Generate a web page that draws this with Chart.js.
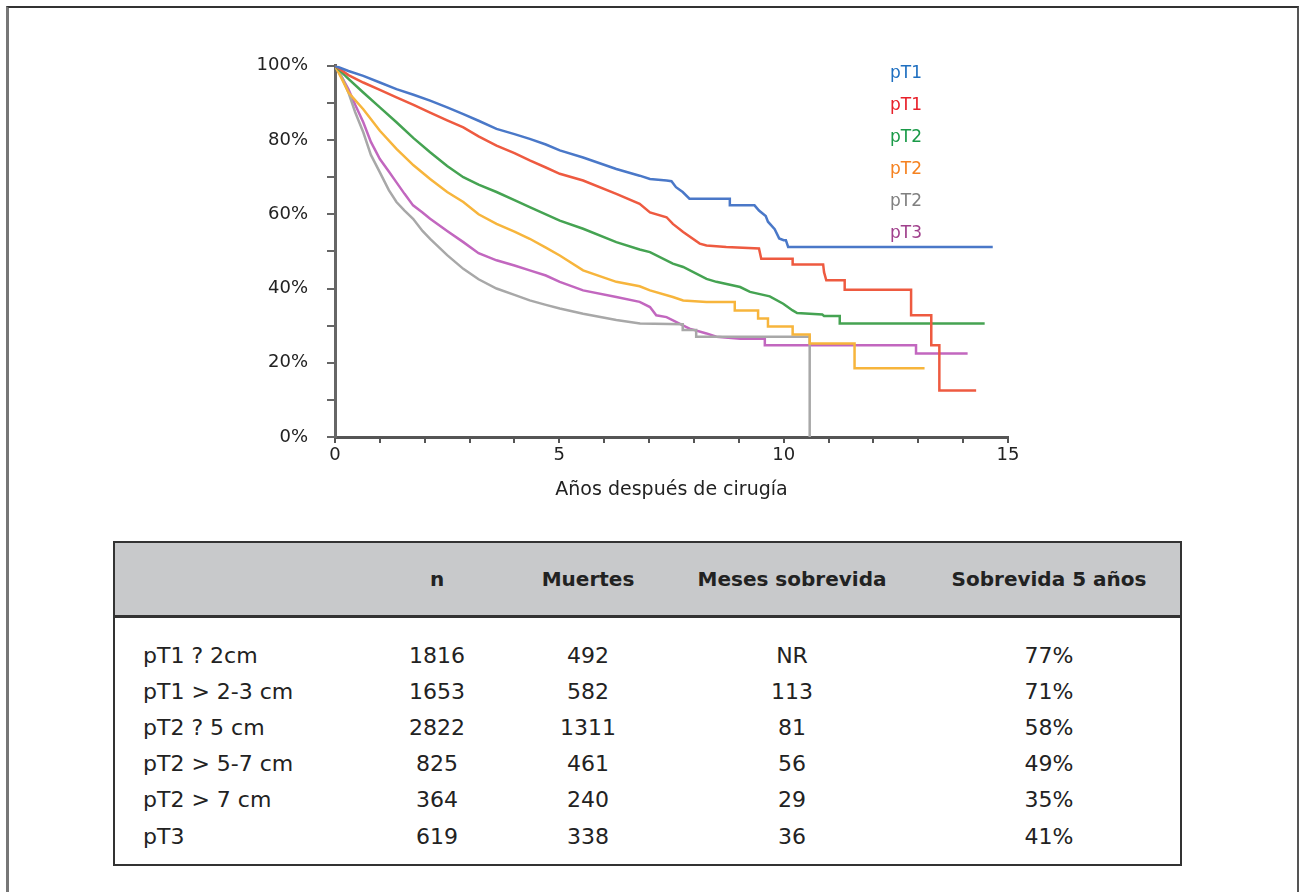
<!DOCTYPE html>
<html>
<head>
<meta charset="utf-8">
<script src="https://cdn.jsdelivr.net/npm/chart.js"></script>
<style>
  body { margin: 0; background: #fff; font-family: 'DejaVu Sans', sans-serif; color: #222; }
  #frame { position: absolute; left: 6px; top: 6px; width: 1288px; height: 900px;
           border-top: 2px solid #333; border-left: 3px solid #777; border-right: 2px solid #555; }
  #chartBox { position: absolute; left: 200px; top: 36px; width: 830px; height: 479px; }
  #legend { position: absolute; left: 890px; top: 56px; font-size: 17px; line-height: 32px; }
  #tbl { position: absolute; left: 113px; top: 541px; width: 1069px; border: 2px solid #333;
         border-collapse: separate; border-spacing: 0; table-layout: fixed; box-sizing: border-box; }
  #tbl th { background: #c8c9cb; height: 72px; border-bottom: 3px solid #333; font-size: 20px;
            font-weight: bold; padding: 0; text-align: center; }
  #tbl td { font-size: 22px; height: 36.2px; padding: 0; text-align: center; }
  #tbl td.lbl { text-align: left; padding-left: 28px; }
  #tbl .c5 { padding-left: 16px; }
</style>
</head>
<body>
<div id="frame"></div>
<div id="chartBox"><canvas id="km" width="830" height="479"></canvas></div>
<div id="legend"></div>
<table id="tbl">
  <colgroup><col style="width:265px"><col style="width:114px"><col style="width:188px"><col style="width:220px"><col style="width:278px"></colgroup>
  <thead><tr><th></th><th>n</th><th>Muertes</th><th>Meses sobrevida</th><th class="c5">Sobrevida 5 años</th></tr></thead>
  <tbody id="tbody"></tbody>
</table>
<script>
// curvas Kaplan-Meier (años, % supervivencia)
var t_pT1a = [0, 0.3, 0.63, 1.0, 1.37, 1.75, 2.12, 2.5, 2.86, 3.2, 3.6, 4.0, 4.34, 4.7, 5.01, 5.53, 6.27, 6.79, 7.02, 7.39, 7.5, 7.6, 7.75, 7.9, 8.8, 8.8, 9.35, 9.45, 9.6, 9.65, 9.8, 9.9, 10.0, 10.05, 10.1, 14.66];
var s_pT1a = [100, 98.6, 97.3, 95.5, 93.7, 92.2, 90.6, 88.8, 87, 85.2, 83, 81.6, 80.3, 78.8, 77.2, 75.3, 72.2, 70.4, 69.5, 69.1, 68.9, 67.3, 66, 64.2, 64.2, 62.4, 62.4, 61, 59.5, 58, 56, 53.5, 53, 53, 51.2, 51.2];

var t_pT1b = [0, 0.3, 0.63, 1.0, 1.37, 1.75, 2.12, 2.5, 2.86, 3.2, 3.6, 4.0, 4.34, 4.7, 5.01, 5.53, 6.27, 6.79, 7.02, 7.39, 7.53, 7.76, 8.13, 8.28, 8.72, 9.45, 9.5, 10.2, 10.2, 10.88, 10.9, 10.95, 11.36, 11.36, 12.84, 12.84, 13.29, 13.29, 13.47, 13.47, 14.29];
var s_pT1b = [100, 97.5, 95.5, 93.5, 91.5, 89.5, 87.4, 85.3, 83.4, 81, 78.5, 76.5, 74.5, 72.6, 70.9, 69.1, 65.5, 62.8, 60.5, 59.2, 57.4, 55.2, 52.1, 51.6, 51.2, 50.8, 48, 48, 46.5, 46.5, 44.4, 42.2, 42.2, 39.7, 39.7, 32.8, 32.8, 24.7, 24.7, 12.5, 12.5];

var t_pT2a = [0, 0.3, 0.63, 1.0, 1.37, 1.75, 2.12, 2.5, 2.86, 3.2, 3.6, 4.0, 4.34, 4.7, 5.01, 5.53, 6.27, 6.79, 7.02, 7.53, 7.76, 8.28, 8.5, 9.03, 9.25, 9.69, 9.99, 10.2, 10.3, 10.86, 10.9, 11.25, 11.25, 14.48];
var s_pT2a = [100, 96.5, 92.8, 88.8, 84.8, 80.5, 76.7, 73, 70, 68, 66, 63.8, 61.9, 60, 58.3, 56.1, 52.5, 50.5, 49.8, 46.7, 45.8, 42.6, 41.8, 40.4, 39.1, 37.9, 35.9, 34.1, 33.4, 33, 32.6, 32.6, 30.6, 30.6];

var t_pT2b = [0, 0.15, 0.3, 0.63, 1.0, 1.37, 1.75, 2.12, 2.5, 2.86, 3.2, 3.6, 4.0, 4.34, 4.7, 5.01, 5.53, 6.27, 6.79, 7.02, 7.53, 7.76, 8.28, 8.91, 8.91, 9.43, 9.43, 9.65, 9.65, 10.2, 10.2, 10.58, 10.58, 11.58, 11.58, 13.14];
var s_pT2b = [100, 96.5, 92.8, 88.3, 82.5, 77.6, 73.2, 69.5, 66, 63.3, 60, 57.4, 55.3, 53.4, 51, 48.9, 44.9, 41.8, 40.6, 39.5, 37.7, 36.8, 36.4, 36.4, 34.1, 34.1, 31.9, 31.9, 29.8, 29.8, 27.6, 27.6, 25.2, 25.2, 18.5, 18.5];

var t_pT2c = [0, 0.15, 0.3, 0.45, 0.63, 0.8, 1.0, 1.2, 1.37, 1.55, 1.74, 1.95, 2.12, 2.5, 2.86, 3.2, 3.6, 4.0, 4.34, 4.7, 5.01, 5.53, 6.27, 6.8, 7.75, 7.75, 8.05, 8.05, 10.58, 10.58];
var s_pT2c = [100, 97, 92.8, 87.5, 82.1, 76, 71.3, 66.5, 63.3, 61, 58.8, 55.5, 53.4, 49, 45.3, 42.5, 40, 38.3, 36.8, 35.6, 34.6, 33.2, 31.5, 30.6, 30.4, 28.8, 28.8, 27, 27, 0];

var t_pT3 = [0, 0.15, 0.3, 0.45, 0.63, 0.8, 1.0, 1.2, 1.37, 1.55, 1.74, 1.95, 2.12, 2.5, 2.86, 3.2, 3.6, 4.0, 4.34, 4.7, 5.01, 5.53, 6.27, 6.79, 7.02, 7.16, 7.39, 7.9, 8.28, 8.5, 9.03, 9.58, 9.58, 12.95, 12.95, 14.1];
var s_pT3 = [100, 97, 93.7, 89.5, 84.8, 79.5, 74.9, 71.5, 68.6, 65.5, 62.4, 60.5, 58.8, 55.5, 52.5, 49.5, 47.6, 46.2, 44.9, 43.5, 41.8, 39.5, 37.7, 36.4, 35, 32.8, 32.3, 29.2, 27.9, 27, 26.5, 26.5, 24.7, 24.7, 22.5, 22.5];

var legendLabels = ['pT1', 'pT1', 'pT2', 'pT2', 'pT2', 'pT3'];
var legendColors = ['#1f6fc0', '#e8202a', '#1a9a48', '#f58220', '#808080', '#a0408c'];
var lineColors = ['#4a78c8', '#ee5a40', '#45a352', '#f7b53c', '#a8a8a8', '#c267bf'];

// tabla
var rowLabels = ['pT1 ? 2cm', 'pT1 > 2-3 cm', 'pT2 ? 5 cm', 'pT2 > 5-7 cm', 'pT2 > 7 cm', 'pT3'];
var nVals = [1816, 1653, 2822, 825, 364, 619];
var deaths = [492, 582, 1311, 461, 240, 338];
var months = ['NR', 113, 81, 56, 29, 36];
var surv5 = ['77%', '71%', '58%', '49%', '35%', '41%'];

toPoints = (ts, ss) => ts.map((t, i) => ({ x: t, y: ss[i] }));

var curves = [[t_pT1a, s_pT1a], [t_pT1b, s_pT1b], [t_pT2a, s_pT2a], [t_pT2b, s_pT2b], [t_pT2c, s_pT2c], [t_pT3, s_pT3]];

Chart.defaults.font.family = "'DejaVu Sans', sans-serif";
Chart.defaults.color = '#222';

new Chart(document.getElementById('km'), {
    type: 'line',
    data: {
        datasets: curves.map((c, i) => ({
            label: legendLabels[i],
            data: toPoints(c[0], c[1]),
            borderColor: lineColors[i],
            borderWidth: 2.5,
            pointRadius: 0,
            tension: 0,
            fill: false
        }))
    },
    options: {
        responsive: false,
        animation: false,
        layout: { padding: { top: 20, right: 22, left: 0, bottom: 0 } },
        plugins: { legend: { display: false }, tooltip: { enabled: false } },
        scales: {
            x: {
                type: 'linear', min: 0, max: 15,
                afterFit: s => { s.height = 78; },
                ticks: { stepSize: 1, autoSkip: false, maxRotation: 0, padding: 2,
                         font: { size: 18 }, color: '#222',
                         callback: v => (v % 5 === 0 ? v : '') },
                grid: { drawOnChartArea: false, drawTicks: true, tickLength: 6, color: '#555', lineWidth: 2 },
                border: { display: true, color: '#555', width: 3 },
                title: { display: true, text: 'Años después de cirugía', color: '#222',
                         font: { size: 19 }, padding: { top: 4, bottom: 14 } }
            },
            y: {
                min: 0, max: 100,
                afterFit: s => { s.width = 135; },
                ticks: { stepSize: 10, autoSkip: false, padding: 19, font: { size: 18 }, color: '#222',
                         callback: v => (v % 20 === 0 ? v + '%' : '') },
                grid: { drawOnChartArea: false, drawTicks: true, tickLength: 8, color: '#666', lineWidth: 2 },
                border: { display: true, color: '#666', width: 3 }
            }
        }
    }
});

var lg = document.getElementById('legend');
legendLabels.forEach((l, i) => {
    var d = document.createElement('div');
    d.textContent = l;
    d.style.color = legendColors[i];
    lg.appendChild(d);
});

var tb = document.getElementById('tbody');
var sp = document.createElement('tr');
sp.innerHTML = '<td colspan="5" style="height:19px"></td>';
tb.appendChild(sp);
rowLabels.forEach((l, i) => {
    var tr = document.createElement('tr');
    [l, nVals[i], deaths[i], months[i], surv5[i]].forEach((v, j) => {
        var td = document.createElement('td');
        td.textContent = v;
        if (j === 0) td.className = 'lbl';
        if (j === 4) td.className = 'c5';
        tr.appendChild(td);
    });
    tb.appendChild(tr);
});
var sp2 = document.createElement('tr');
sp2.innerHTML = '<td colspan="5" style="height:10px"></td>';
tb.appendChild(sp2);
</script>
</body>
</html>
